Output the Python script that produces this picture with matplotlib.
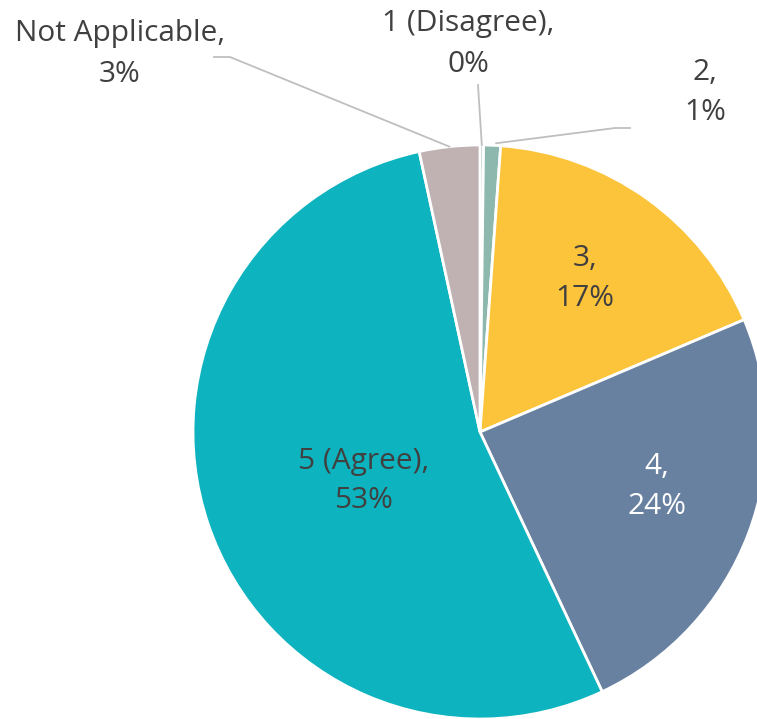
import numpy as np
import matplotlib
matplotlib.use("Agg")
from matplotlib import pyplot as plt

matplotlib.rcParams['font.family'] = ['Open Sans', 'DejaVu Sans']

# data
categories = ['1 (Disagree)', '2', '3', '4', '5 (Agree)', 'Not Applicable']
shares = [0.2, 0.95, 17.45, 24.4, 53.6, 3.4]
labels_pct = ['0%', '1%', '17%', '24%', '53%', '3%']
colors = ['#7FA9A0', '#8DB8AD', '#FBC43A', '#6881A0', '#0DB3BF', '#C0B1B3']

W, H = 757, 719
fig = plt.figure(figsize=(W / 100, H / 100), dpi=100)
ax = fig.add_axes([0, 0, 1, 1])

cx, cy, r = 480, H - 432, 287
wedges, _ = ax.pie(shares, colors=colors, startangle=90, counterclock=False,
                   center=(cx, cy), radius=r,
                   wedgeprops=dict(edgecolor='white', linewidth=2.0))

# pie() resets the limits, so set pixel-like limits afterwards
ax.set_xlim(0, W)
ax.set_ylim(0, H)
ax.set_aspect('equal')
ax.axis('off')

# label positions (pixel coords from top-left) and text colours
label_pos = [(468, 44), (705, 92), (585, 279), (657, 487), (364, 481), (120, 54)]
txt_col = ['#404040', '#404040', '#404040', 'white', '#404040', '#404040']

for i, w in enumerate(wedges):
    x, y = label_pos[i]
    ax.text(x, H - y, categories[i] + ',\n' + labels_pct[i], ha='center', va='center',
            fontsize=21.5, color=txt_col[i], linespacing=1.5)

# leader lines for the small outside labels
def edge_point(w):
    ang = np.deg2rad((w.theta1 + w.theta2) / 2)
    return cx + r * np.cos(ang), cy + r * np.sin(ang)

lc = '#BFBFBF'
# Not Applicable
ex, ey = edge_point(wedges[5])
ax.plot([214, 230, ex], [H - 57, H - 57, ey], color=lc, lw=1.3)
# 1 (Disagree)
ex, ey = edge_point(wedges[0])
ax.plot([478, ex], [H - 85, ey], color=lc, lw=1.3)
# 2
ex, ey = edge_point(wedges[1])
ax.plot([630, 615, ex + 4], [H - 128, H - 128, ey + 2], color=lc, lw=1.3)

fig.savefig('out.png', dpi=100)
